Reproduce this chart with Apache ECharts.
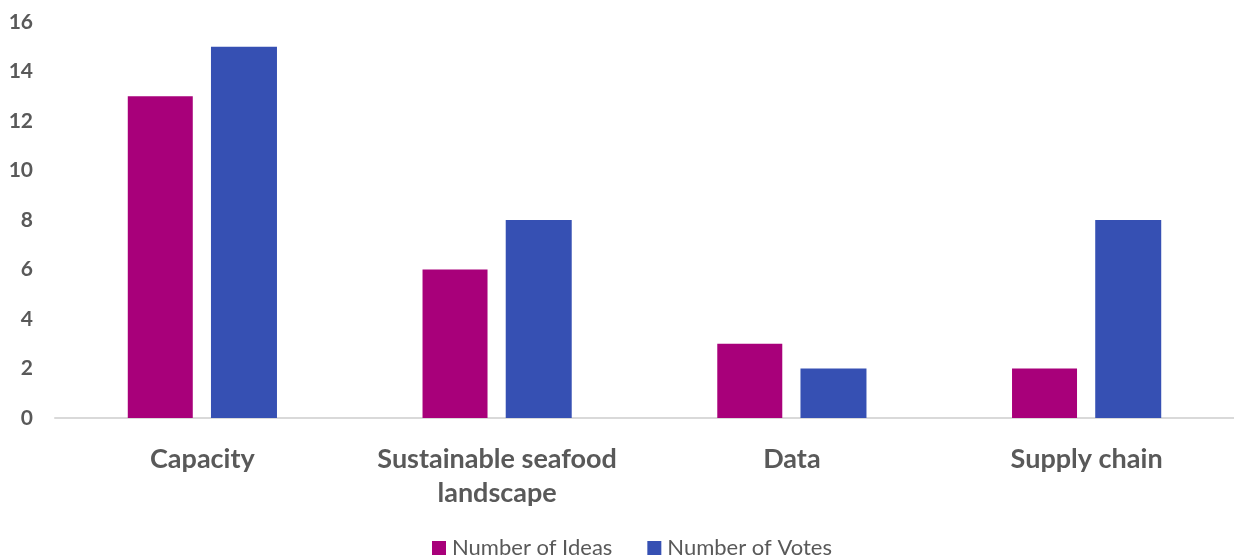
<!DOCTYPE html>
<html><head><meta charset="utf-8">
<script src="https://cdn.jsdelivr.net/npm/echarts@6/dist/echarts.min.js"></script>
<style>html,body{margin:0;padding:0;background:#fff}#c{width:1234px;height:558px}</style>
</head><body><div id="c"></div>
<script>
const categories = ['Capacity', 'Sustainable seafood\nlandscape', 'Data', 'Supply chain'];
const ideas = [13, 6, 3, 2];
const votes = [15, 8, 2, 8];
const seriesNames = ['Number of Ideas', 'Number of Votes'];

const chart = echarts.init(document.getElementById('c'));
chart.setOption({
  animation: false,
  grid: { left: 55, right: -9, top: 22, bottom: 140, containLabel: false },
  legend: {
    bottom: -6, left: 427, itemWidth: 14, itemHeight: 14, itemGap: 35,
    icon: 'rect',
    textStyle: { fontFamily: 'Lato', fontSize: 22, color: '#595959', padding: [0,0,0,1] },
    data: seriesNames
  },
  xAxis: {
    type: 'category', data: categories,
    axisLine: { lineStyle: { color: '#d9d9d9', width: 2 } },
    axisTick: { show: false },
    axisLabel: { interval: 0, fontFamily: 'Lato', fontWeight: 'bold', fontSize: 27, color: '#595959', margin: 24, lineHeight: 34 }
  },
  yAxis: {
    type: 'value', min: 0, max: 16, interval: 2,
    splitLine: { show: false },
    axisLine: { show: false }, axisTick: { show: false },
    axisLabel: { fontFamily: 'Lato', fontWeight: 'bold', fontSize: 21, color: '#595959', margin: 22 }
  },
  series: [
    { name: seriesNames[0], type: 'bar', data: ideas, barWidth: 65, barGap: '28%', itemStyle: { color: '#a8007a' } },
    { name: seriesNames[1], type: 'bar', data: votes, barWidth: 66, itemStyle: { color: '#3650b3' } }
  ]
});
</script></body></html>
